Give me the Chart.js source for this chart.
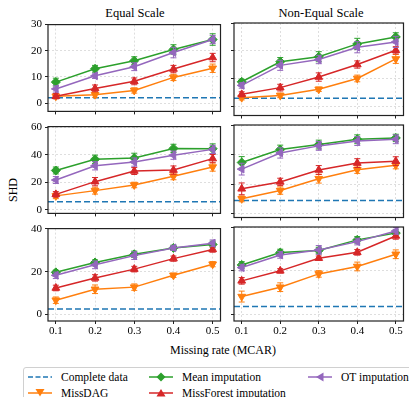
<!DOCTYPE html>
<html>
<head>
<meta charset="utf-8">
<script src="https://cdn.jsdelivr.net/npm/chart.js@4.4.0/dist/chart.umd.min.js"></script>
<style>
  html, body { margin: 0; padding: 0; background: #fff; }
  #fig { position: relative; width: 409px; height: 397px; overflow: hidden; font-family: "Liberation Serif", "Times New Roman", Times, "DejaVu Serif", serif; color: #000; }
  canvas { position: absolute; }
  .txt { position: absolute; white-space: nowrap; line-height: 1; }
  .title { font-size: 12.5px; transform: translate(-50%, -50%); }
  #legend { position: absolute; left: 23px; top: 367px; width: 420px; height: 40px; border: 1px solid #d0d0d0; border-radius: 3px; background: #fff; }
  .item { position: absolute; display: flex; align-items: center; font-size: 11.5px; height: 14px; }
  .item svg { margin-right: 9px; }
</style>
</head>
<body>
<div id="fig">
  <div class="txt title" style="left:135px;top:13px">Equal Scale</div>
  <div class="txt title" style="left:321px;top:13px">Non-Equal Scale</div>
  <div class="txt" style="left:13px;top:190px;font-size:12px;transform:translate(-50%,-50%) rotate(-90deg)">SHD</div>
  <div class="txt" style="left:223px;top:350px;font-size:12px;transform:translate(-50%,-50%)">Missing rate (MCAR)</div>
  <div id="legend"></div>
</div>
<script>
// données
const MISSING_RATES = [0.1, 0.2, 0.3, 0.4, 0.5];
const SERIES = ['Complete data', 'MissDAG', 'Mean imputation', 'MissForest imputation', 'OT imputation'];
const Y_TICKS = [[0, 10, 20, 30], [0, 20, 40, 60], [0, 20, 40]];
const Y_LIMITS = [[-3.2, 30], [-2.6, 60.3], [-3, 40.1]];
const X_LIMITS = [0.08, 0.52];

// colonne "Equal Scale" : une ligne par rangée
const completeEqual = [2.0, 5.8, 2.6];
const missdagEqual = [
  [2.6, 3.2, 4.8, 9.8, 13.3],
  [10.1, 13.9, 18.0, 24.3, 31.0],
  [6.7, 11.8, 12.8, 18.3, 23.5]
];
const missdagEqualErr = [
  [0.8, 1.0, 1.0, 1.2, 1.6],
  [2.0, 2.5, 2.0, 2.5, 3.0],
  [1.5, 2.0, 1.5, 1.0, 1.2]
];
const meanEqual = [
  [8.0, 13.1, 16.2, 20.5, 24.3],
  [28.5, 36.6, 37.5, 44.5, 44.3],
  [19.7, 24.3, 28.1, 31.1, 32.7]
];
const meanEqualErr = [
  [1.5, 1.3, 1.5, 1.8, 2.2],
  [2.5, 3.0, 3.5, 3.0, 3.5],
  [1.0, 1.2, 1.5, 1.2, 1.5]
];
const forestEqual = [
  [2.6, 5.6, 8.3, 13.0, 17.4],
  [11.2, 20.4, 28.1, 28.8, 37.1],
  [12.4, 17.1, 21.2, 26.1, 30.4]
];
const forestEqualErr = [
  [1.0, 1.3, 1.3, 1.4, 1.6],
  [2.0, 3.0, 2.5, 3.0, 3.0],
  [1.3, 1.5, 1.3, 1.2, 1.3]
];
const otEqual = [
  [5.4, 10.4, 13.9, 19.3, 24.3],
  [21.6, 31.9, 34.6, 39.6, 43.8],
  [18.3, 23.2, 27.5, 31.1, 33.3]
];
const otEqualErr = [
  [1.2, 1.0, 1.5, 2.0, 1.6],
  [2.5, 3.0, 3.0, 3.0, 3.0],
  [1.5, 1.8, 1.8, 1.2, 1.5]
];

// colonne "Non-Equal Scale"
const completeNonEqual = [3.0, 9.0, 3.7];
const missdagNonEqual = [
  [3.2, 4.0, 6.2, 10.1, 17.1],
  [10.1, 15.7, 23.8, 29.9, 33.0],
  [8.2, 12.5, 18.6, 22.0, 27.6]
];
const missdagNonEqualErr = [
  [0.8, 0.8, 0.8, 1.2, 1.6],
  [2.0, 2.5, 3.0, 2.5, 2.5],
  [2.5, 2.0, 1.5, 2.0, 2.0]
];
const meanNonEqual = [
  [8.9, 16.1, 17.9, 22.5, 25.0],
  [34.8, 43.6, 47.0, 50.6, 51.5],
  [22.7, 28.4, 29.3, 34.2, 37.3]
];
const meanNonEqualErr = [
  [0.9, 1.5, 1.8, 2.0, 1.5],
  [4.0, 3.0, 3.0, 3.0, 2.5],
  [1.5, 1.5, 1.5, 1.5, 1.5]
];
const forestNonEqual = [
  [4.4, 6.8, 10.6, 15.1, 20.2],
  [16.9, 21.6, 29.7, 34.4, 35.7],
  [15.4, 20.0, 25.8, 28.5, 36.0]
];
const forestNonEqualErr = [
  [0.9, 1.2, 1.5, 1.3, 1.3],
  [4.0, 2.5, 3.0, 3.0, 3.0],
  [1.5, 1.0, 1.0, 1.3, 1.5]
];
const otNonEqual = [
  [7.6, 14.8, 16.9, 21.3, 23.2],
  [30.3, 41.3, 46.1, 49.4, 50.6],
  [21.5, 27.3, 29.6, 33.4, 38.3]
];
const otNonEqualErr = [
  [1.0, 1.8, 1.5, 2.0, 2.0],
  [4.0, 3.5, 3.0, 3.0, 3.0],
  [1.5, 1.5, 2.0, 1.5, 1.5]
];

// styles des séries
const COLORS = ['#1f77b4', '#ff7f0e', '#2ca02c', '#d62728', '#9467bd'];
const MARKERS = [
  { style: false, rotation: 0, radius: 0 },
  { style: 'triangle', rotation: 180, radius: 4.5 },
  { style: 'rectRot', rotation: 0, radius: 4.5 },
  { style: 'triangle', rotation: 0, radius: 4.5 },
  { style: 'triangle', rotation: 270, radius: 4.5 }
];

Chart.defaults.font.family = '"Liberation Serif", "Times New Roman", Times, "DejaVu Serif", serif';
Chart.defaults.font.size = 11;
Chart.defaults.color = '#000';

// cadre complet autour de la zone de tracé
const framePlugin = {
  id: 'frame',
  afterDraw(chart) {
    const a = chart.chartArea, ctx = chart.ctx;
    ctx.save();
    ctx.strokeStyle = '#222';
    ctx.lineWidth = 1.2;
    ctx.strokeRect(a.left, a.top, a.right - a.left, a.bottom - a.top);
    ctx.restore();
  }
};

// barres d'erreur
const errorBarPlugin = {
  id: 'errorBars',
  beforeDatasetDraw(chart, args) {
    const ds = chart.data.datasets[args.index];
    if (!ds.err) return;
    const xs = chart.scales.x, ys = chart.scales.y, ctx = chart.ctx;
    ctx.save();
    ctx.strokeStyle = ds.borderColor;
    ctx.lineWidth = 1;
    ds.data.forEach((p, i) => {
      const px = xs.getPixelForValue(p.x);
      const top = ys.getPixelForValue(p.y + ds.err[i]);
      const bot = ys.getPixelForValue(p.y - ds.err[i]);
      ctx.beginPath();
      ctx.moveTo(px, top); ctx.lineTo(px, bot);
      ctx.moveTo(px - 3, top); ctx.lineTo(px + 3, top);
      ctx.moveTo(px - 3, bot); ctx.lineTo(px + 3, bot);
      ctx.stroke();
    });
    ctx.restore();
  }
};

function points(values) {
  return values.map((v, i) => ({ x: MISSING_RATES[i], y: v }));
}

function buildDatasets(row, col) {
  const complete = col === 0 ? completeEqual : completeNonEqual;
  const vals = col === 0
    ? [missdagEqual, meanEqual, forestEqual, otEqual]
    : [missdagNonEqual, meanNonEqual, forestNonEqual, otNonEqual];
  const errs = col === 0
    ? [missdagEqualErr, meanEqualErr, forestEqualErr, otEqualErr]
    : [missdagNonEqualErr, meanNonEqualErr, forestNonEqualErr, otNonEqualErr];

  const datasets = [{
    label: SERIES[0],
    data: [{ x: X_LIMITS[0], y: complete[row] }, { x: X_LIMITS[1], y: complete[row] }],
    borderColor: COLORS[0],
    borderWidth: 1.5,
    borderDash: [6, 3],
    pointRadius: 0,
    order: 5
  }];
  for (let s = 1; s < SERIES.length; s++) {
    datasets.push({
      label: SERIES[s],
      data: points(vals[s - 1][row]),
      err: errs[s - 1][row],
      borderColor: COLORS[s],
      backgroundColor: COLORS[s],
      borderWidth: 1.5,
      pointStyle: MARKERS[s].style,
      rotation: MARKERS[s].rotation,
      pointRadius: MARKERS[s].radius,
      pointBorderWidth: 1,
      order: 5 - s
    });
  }
  return datasets;
}

// géométrie des panneaux
const ROW_TOP = [23, 125, 227];
const ROW_BOTTOM = [116, 218, 321];
const COL_LEFT = [0, 226];
const COL_WIDTH = [226, 183];
const PAD_TOP = 8;

const fig = document.getElementById('fig');

for (let row = 0; row < 3; row++) {
  for (let col = 0; col < 2; col++) {
    const xAxisH = row === 2 ? 18 : 5;
    const h = PAD_TOP + (ROW_BOTTOM[row] - ROW_TOP[row]) + xAxisH;
    const cv = document.createElement('canvas');
    cv.width = COL_WIDTH[col];
    cv.height = h;
    cv.style.left = COL_LEFT[col] + 'px';
    cv.style.top = (ROW_TOP[row] - PAD_TOP) + 'px';
    cv.style.width = COL_WIDTH[col] + 'px';
    cv.style.height = h + 'px';
    fig.appendChild(cv);

    new Chart(cv.getContext('2d'), {
      type: 'line',
      data: { datasets: buildDatasets(row, col) },
      options: {
        responsive: false,
        animation: false,
        devicePixelRatio: 1,
        layout: { padding: { top: PAD_TOP, left: 0, right: col === 0 ? 4 : 1, bottom: 0 } },
        plugins: { legend: { display: false }, tooltip: { enabled: false } },
        scales: {
          x: {
            type: 'linear',
            min: X_LIMITS[0],
            max: X_LIMITS[1],
            afterBuildTicks: s => { s.ticks = MISSING_RATES.map(v => ({ value: v })); },
            afterFit: s => { s.height = xAxisH; },
            ticks: {
              display: row === 2,
              padding: 1,
              maxRotation: 0,
              autoSkip: false,
              callback: v => v.toFixed(1)
            },
            grid: { color: '#d6d6d6', lineWidth: 0.8, tickLength: 3, tickColor: '#222', tickWidth: 1 },
            border: { display: false, dash: [2, 2] }
          },
          y: {
            type: 'linear',
            min: Y_LIMITS[row][0],
            max: Y_LIMITS[row][1],
            afterBuildTicks: s => { s.ticks = Y_TICKS[row].map(v => ({ value: v })); },
            afterFit: s => { s.width = col === 0 ? 48 : 8; },
            ticks: { display: col === 0, padding: 3 },
            grid: { color: '#d6d6d6', lineWidth: 0.8, tickLength: 3, tickColor: '#222', tickWidth: 1 },
            border: { display: false, dash: [2, 2] }
          }
        }
      },
      plugins: [errorBarPlugin, framePlugin]
    });
  }
}

// légende (3 colonnes, remplies par colonne)
const LEGEND_POS = [[4, 2], [4, 18], [125, 2], [125, 18], [284, 2]];
function markerSvg(s) {
  const c = COLORS[s];
  let mark = '';
  if (s === 1) mark = `<polygon points="7.5,3 16.5,3 12,10.5" fill="${c}"/>`;
  if (s === 2) mark = `<polygon points="12,2.5 16.5,7 12,11.5 7.5,7" fill="${c}"/>`;
  if (s === 3) mark = `<polygon points="7.5,10.5 16.5,10.5 12,3" fill="${c}"/>`;
  if (s === 4) mark = `<polygon points="8,7 15.5,2.5 15.5,11.5" fill="${c}"/>`;
  const dash = s === 0 ? ' stroke-dasharray="5,2.5"' : '';
  return `<svg width="24" height="14"><line x1="0" y1="7" x2="24" y2="7" stroke="${c}" stroke-width="1.5"${dash}/>${mark}</svg>`;
}
const legend = document.getElementById('legend');
SERIES.forEach((name, s) => {
  const it = document.createElement('div');
  it.className = 'item';
  it.style.left = LEGEND_POS[s][0] + 'px';
  it.style.top = LEGEND_POS[s][1] + 'px';
  it.innerHTML = markerSvg(s) + '<span>' + name + '</span>';
  legend.appendChild(it);
});
</script>
</body>
</html>
